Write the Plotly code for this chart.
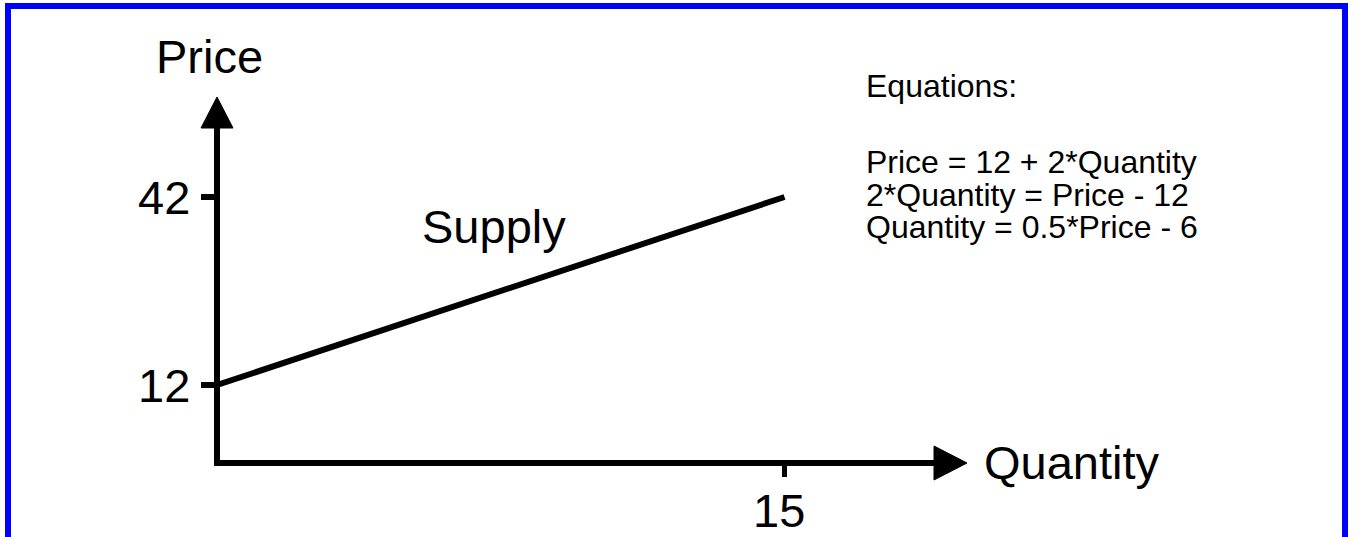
import plotly.graph_objects as go

# ---- data ----
quantity = [0, 15]
price = [12, 42]
y_tick_values = [12, 42]
y_tick_labels = ["12", "42"]
x_tick_values = [15]
x_tick_labels = ["15"]
equation_lines = [
    "Price = 12 + 2*Quantity",
    "2*Quantity = Price - 12",
    "Quantity = 0.5*Price - 6",
]

W, H = 1354, 537
FONT = "Liberation Sans, Arial, sans-serif"

# pixel <-> data mapping (plot area covers whole figure)
X0PX, XSCALE = 217.0, 37.833
Y0PX, YSCALE = 460.2, 6.2667


def dx(px):
    return (px - X0PX) / XSCALE


def dy(py):
    return (Y0PX - py) / YSCALE


fig = go.Figure()

# axes lines
x_axis_y = dy(463)
fig.add_trace(go.Scatter(x=[dx(214), dx(936)], y=[x_axis_y, x_axis_y], mode="lines",
                         line=dict(color="black", width=6), hoverinfo="skip"))
fig.add_trace(go.Scatter(x=[0, 0], y=[dy(466), dy(126)], mode="lines",
                         line=dict(color="black", width=6), hoverinfo="skip"))
# arrowheads
fig.add_trace(go.Scatter(x=[dx(934), dx(967), dx(934), dx(934)],
                         y=[dy(446), dy(463), dy(480), dy(446)],
                         mode="lines", fill="toself", fillcolor="black",
                         line=dict(color="black", width=1), hoverinfo="skip"))
fig.add_trace(go.Scatter(x=[dx(201), dx(217), dx(233), dx(201)],
                         y=[dy(128), dy(97), dy(128), dy(128)],
                         mode="lines", fill="toself", fillcolor="black",
                         line=dict(color="black", width=1), hoverinfo="skip"))

# ticks
for v, lab in zip(y_tick_values, y_tick_labels):
    fig.add_trace(go.Scatter(x=[dx(201), 0], y=[v, v], mode="lines",
                             line=dict(color="black", width=6), hoverinfo="skip"))
    fig.add_annotation(x=dx(192), y=v, text=lab, showarrow=False, xanchor="right",
                       yanchor="middle", font=dict(family=FONT, size=47, color="black"))
for v, lab in zip(x_tick_values, x_tick_labels):
    fig.add_trace(go.Scatter(x=[v, v], y=[dy(466), dy(477)], mode="lines",
                             line=dict(color="black", width=5), hoverinfo="skip"))
    fig.add_annotation(x=v - dx(784.5) + dx(779), y=dy(510), text=lab, showarrow=False,
                       xanchor="center", yanchor="middle",
                       font=dict(family=FONT, size=47, color="black"))

# supply curve
fig.add_trace(go.Scatter(x=quantity, y=price, mode="lines",
                         line=dict(color="black", width=6), hoverinfo="skip"))

# labels
fig.add_annotation(x=dx(209.5), y=dy(56), text="Price", showarrow=False,
                   xanchor="center", yanchor="middle",
                   font=dict(family=FONT, size=47, color="black"))
fig.add_annotation(x=dx(982), y=dy(462), text="Quantity", showarrow=False,
                   xanchor="left", yanchor="middle",
                   font=dict(family=FONT, size=47, color="black"))
fig.add_annotation(x=dx(420), y=dy(226), text="Supply", showarrow=False,
                   xanchor="left", yanchor="middle",
                   font=dict(family=FONT, size=47, color="black"))

fig.add_annotation(x=dx(864), y=dy(86), text="Equations:", showarrow=False,
                   xanchor="left", yanchor="middle",
                   font=dict(family=FONT, size=32, color="black"))
for i, line in enumerate(equation_lines):
    fig.add_annotation(x=dx(864), y=dy(162 + 32.5 * i), text=line, showarrow=False,
                       xanchor="left", yanchor="middle",
                       font=dict(family=FONT, size=32, color="black"))

# blue frame
fig.add_shape(type="rect", xref="paper", yref="paper",
              x0=8 / W, x1=1345 / W, y0=-0.2, y1=1 - 6 / H,
              line=dict(color="#0000FF", width=6), fillcolor="rgba(0,0,0,0)")

fig.update_layout(
    width=W, height=H, margin=dict(l=0, r=0, t=0, b=0),
    paper_bgcolor="white", plot_bgcolor="white", showlegend=False,
    xaxis=dict(range=[dx(0), dx(W)], visible=False, fixedrange=True),
    yaxis=dict(range=[dy(H), dy(0)], visible=False, fixedrange=True),
)

fig.write_html("out.html", config={"displayModeBar": False},
               post_script="document.body.style.margin='0px';document.body.style.overflow='hidden';")
